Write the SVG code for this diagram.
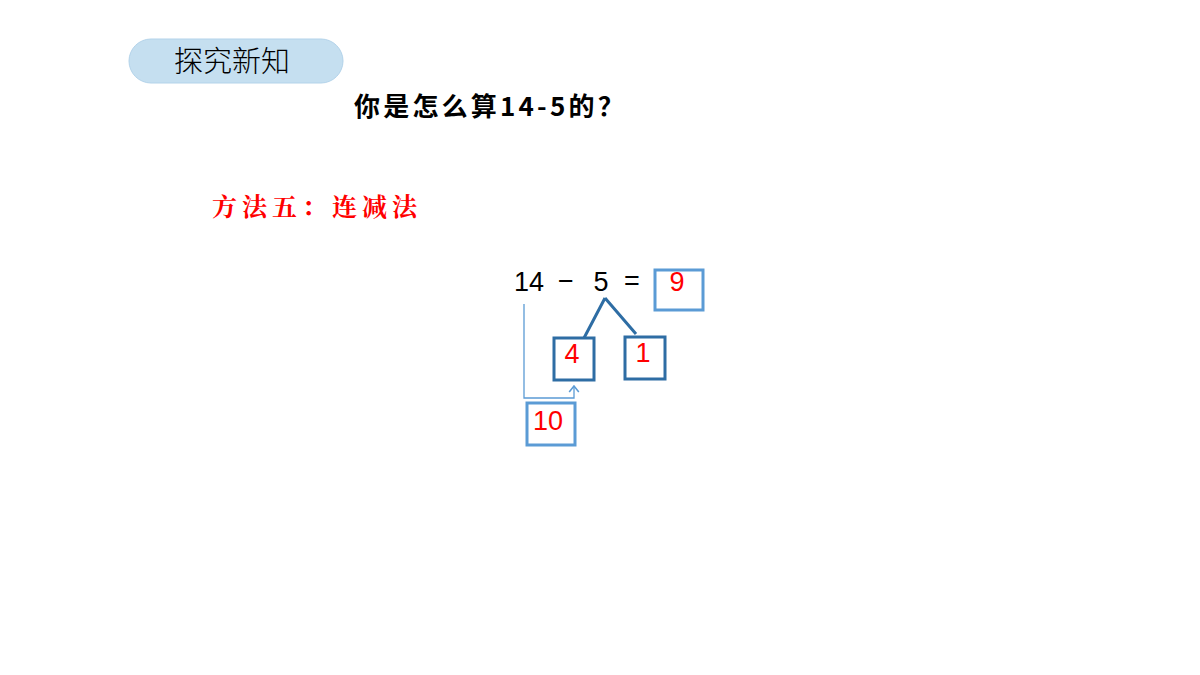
<svg xmlns="http://www.w3.org/2000/svg" width="1200" height="675" viewBox="0 0 1200 675">
<style>
.num{font-family:"Liberation Sans",Arial,sans-serif;font-size:27px;fill:#000}
.red{font-family:"Liberation Sans",Arial,sans-serif;font-size:27px;fill:#ff0000;text-anchor:middle}
.box1{fill:#fff;stroke:#5b9bd5;stroke-width:3}
.box2{fill:#fff;stroke:#2e6da4;stroke-width:3}
</style>
<defs>
<marker id="arr" markerWidth="12" markerHeight="12" refX="9" refY="5" orient="auto" markerUnits="userSpaceOnUse" viewBox="0 0 10 10">
<path d="M4,1 L9,5 L4,9" fill="none" stroke="#5b9bd5" stroke-width="1.3"/>
</marker>
</defs>
<rect width="1200" height="675" fill="#fff"/>
<g id="title">
<rect x="129" y="39" width="214" height="44" rx="22" fill="#c5dff0" stroke="#b3d3ea" stroke-width="1"/>
<text x="232" y="72" text-anchor="middle" font-family="'Noto Sans CJK SC',sans-serif" font-size="29" font-weight="300" fill="#000">探究新知</text>
</g>
<g id="question">
<text x="354" y="116" font-family="'Noto Sans CJK SC',sans-serif" font-size="26" font-weight="bold" fill="#000" letter-spacing="3.2">你是怎么算14-5的？</text>
</g>
<g id="method">
<text x="212" y="216" font-family="'Noto Serif CJK SC','Noto Sans CJK SC',serif" font-size="25" font-weight="bold" fill="#ff0000" letter-spacing="5">方法五：连减法</text>
</g>
<g id="equation">
<text x="514" y="291" class="num">14</text>
<text x="566" y="290" class="num" text-anchor="middle">−</text>
<text x="601" y="291" class="num" text-anchor="middle">5</text>
<text x="632" y="290" class="num" text-anchor="middle">=</text>
</g>
<g id="connectors">
<path d="M605,298 L584,338 M605,298 L636,334" fill="none" stroke="#2e6da4" stroke-width="3"/>
<path d="M524,304 L524,398 L574,398 L574,386" fill="none" stroke="#5b9bd5" stroke-width="1.3" marker-end="url(#arr)"/>
</g>
<g id="box9">
<rect x="655" y="270" width="48" height="40" class="box1"/>
<text x="677" y="291" class="red">9</text>
</g>
<g id="box4">
<rect x="554" y="338" width="40" height="42" class="box2"/>
<text x="572" y="363" class="red">4</text>
</g>
<g id="box1n">
<rect x="625" y="337" width="40" height="42" class="box2"/>
<text x="643" y="362" class="red">1</text>
</g>
<g id="box10">
<rect x="527" y="403" width="48" height="42" class="box1"/>
<text x="548" y="430" class="red">10</text>
</g>
</svg>
